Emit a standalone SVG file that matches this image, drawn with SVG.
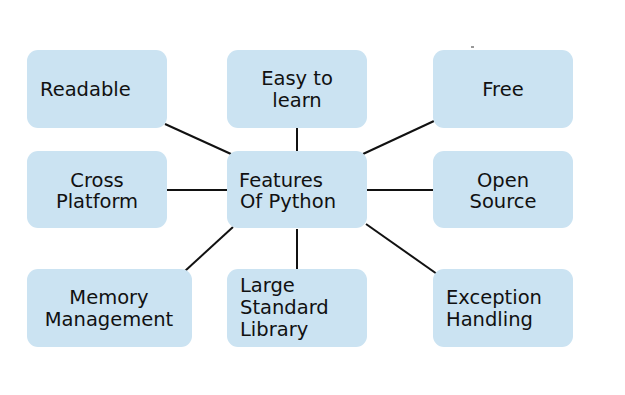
<svg xmlns="http://www.w3.org/2000/svg" width="625" height="395" viewBox="0 0 625 395">
<style>
.box{fill:#cbe3f2;}
.t{font-family:"DejaVu Sans","Liberation Sans",sans-serif;font-size:19.5px;fill:#111;}
.c{text-anchor:middle;}
.ln{stroke:#111;stroke-width:2;fill:none;}
</style>
<rect width="625" height="395" fill="#fff"/>
<g id="connectors">
<line class="ln" x1="165" y1="124" x2="231" y2="154"/>
<line class="ln" x1="297" y1="128" x2="297" y2="151"/>
<line class="ln" x1="434" y1="121" x2="363" y2="154"/>
<line class="ln" x1="167" y1="190" x2="227" y2="190"/>
<line class="ln" x1="367" y1="190" x2="433" y2="190"/>
<line class="ln" x1="185" y1="271" x2="233" y2="227"/>
<line class="ln" x1="297" y1="229" x2="297" y2="269"/>
<line class="ln" x1="366" y1="224" x2="437" y2="274"/>
<line x1="471" y1="47" x2="474" y2="47" stroke="#333" stroke-width="1"/>
</g>
<g id="readable"><rect class="box" x="27" y="50" width="140" height="78" rx="11"/><text class="t" x="40" y="96">Readable</text></g>
<g id="easy"><rect class="box" x="227" y="50" width="140" height="78" rx="11"/><text class="t c" x="297" y="85">Easy to</text><text class="t c" x="297" y="107">learn</text></g>
<g id="free"><rect class="box" x="433" y="50" width="140" height="78" rx="11"/><text class="t c" x="503" y="96">Free</text></g>
<g id="cross"><rect class="box" x="27" y="151" width="140" height="77" rx="11"/><text class="t c" x="97" y="187">Cross</text><text class="t c" x="97" y="208">Platform</text></g>
<g id="features"><rect class="box" x="227" y="151" width="140" height="77" rx="11"/><text class="t" x="239" y="187">Features</text><text class="t" x="240" y="208">Of Python</text></g>
<g id="open"><rect class="box" x="433" y="151" width="140" height="77" rx="11"/><text class="t c" x="503" y="187">Open</text><text class="t c" x="503" y="208">Source</text></g>
<g id="memory"><rect class="box" x="27" y="269" width="165" height="78" rx="11"/><text class="t c" x="109" y="304">Memory</text><text class="t c" x="109" y="326">Management</text></g>
<g id="library"><rect class="box" x="227" y="269" width="140" height="78" rx="11"/><text class="t" x="240" y="292">Large</text><text class="t" x="240" y="314">Standard</text><text class="t" x="240" y="336">Library</text></g>
<g id="exception"><rect class="box" x="433" y="269" width="140" height="78" rx="11"/><text class="t" x="446" y="304">Exception</text><text class="t" x="446" y="326">Handling</text></g>
</svg>
